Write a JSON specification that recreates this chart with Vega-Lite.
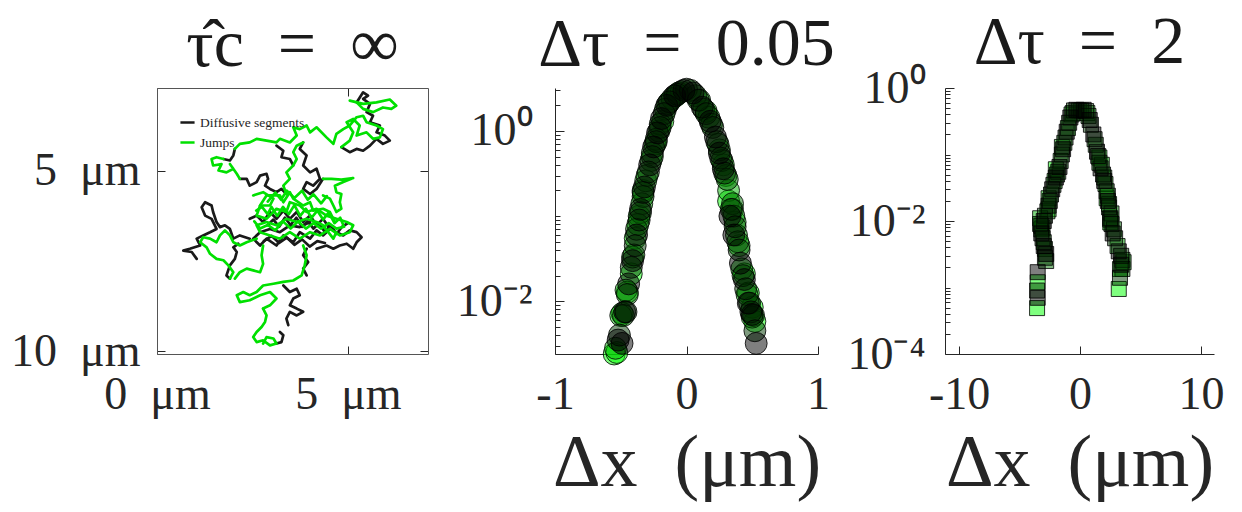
{
"$schema":"https://vega.github.io/schema/vega-lite/v6.json",
"background":"white",
"padding":{"left":10,"top":9,"right":5,"bottom":2},
"config":{"view":{"stroke":null},"font":"Liberation Serif",
 "axis":{"labelFont":"Liberation Serif","labelFontSize":46,"labelColor":"#262626","titleFont":"Liberation Serif","titleFontSize":74,"titleFontWeight":"normal","titleColor":"#262626","domainColor":"#262626","tickColor":"#262626","grid":false,"labelOverlap":false,"labelFlush":false,"labelBound":false},
 "title":{"font":"Liberation Serif","fontSize":68,"fontWeight":"normal","color":"#1a1a1a"}},
"spacing":127,
"bounds":"flush",
"resolve":{"scale":{"x":"independent","y":"independent","color":"independent","fill":"independent"}},
"datasets":{
"traj":[
{"k":"Diffusive segments","g":"K1","x":5.23,"y":3.10},{"k":"Diffusive segments","g":"K1","x":5.40,"y":2.82},{"k":"Diffusive segments","g":"K1","x":5.53,"y":2.91},{"k":"Diffusive segments","g":"K1","x":5.40,"y":3.00},{"k":"Diffusive segments","g":"K1","x":5.58,"y":3.14},{"k":"Diffusive segments","g":"K1","x":5.49,"y":3.37},{"k":"Diffusive segments","g":"K1","x":5.66,"y":3.47},{"k":"Diffusive segments","g":"K1","x":5.58,"y":3.65},{"k":"Diffusive segments","g":"K1","x":5.84,"y":3.74},{"k":"Diffusive segments","g":"K1","x":5.75,"y":3.93},{"k":"Diffusive segments","g":"K1","x":5.97,"y":4.02},{"k":"Diffusive segments","g":"K1","x":6.10,"y":4.16},{"k":"Diffusive segments","g":"K1","x":5.92,"y":4.25},{"k":"Diffusive segments","g":"K1","x":5.75,"y":4.11},{"k":"Diffusive segments","g":"K1","x":5.58,"y":4.30},{"k":"Diffusive segments","g":"K1","x":5.40,"y":4.44},{"k":"Diffusive segments","g":"K1","x":5.23,"y":4.39},{"k":"Diffusive segments","g":"K1","x":5.05,"y":4.48},{"k":"Diffusive segments","g":"K1","x":4.83,"y":4.34},
{"k":"Diffusive segments","g":"K2","x":2.04,"y":4.39},{"k":"Diffusive segments","g":"K2","x":2.00,"y":4.57},{"k":"Diffusive segments","g":"K2","x":1.91,"y":4.71},{"k":"Diffusive segments","g":"K2","x":1.74,"y":4.67},
{"k":"Diffusive segments","g":"K3","x":2.17,"y":5.22},{"k":"Diffusive segments","g":"K3","x":2.35,"y":5.22},{"k":"Diffusive segments","g":"K3","x":2.43,"y":5.41},{"k":"Diffusive segments","g":"K3","x":2.61,"y":5.31},{"k":"Diffusive segments","g":"K3","x":2.70,"y":5.13},{"k":"Diffusive segments","g":"K3","x":2.87,"y":5.08},{"k":"Diffusive segments","g":"K3","x":2.91,"y":5.22},{"k":"Diffusive segments","g":"K3","x":2.83,"y":5.41},{"k":"Diffusive segments","g":"K3","x":2.96,"y":5.50},{"k":"Diffusive segments","g":"K3","x":3.13,"y":5.59},{"k":"Diffusive segments","g":"K3","x":3.26,"y":5.50},{"k":"Diffusive segments","g":"K3","x":3.39,"y":5.64},
{"k":"Diffusive segments","g":"K4","x":3.83,"y":4.21},{"k":"Diffusive segments","g":"K4","x":3.74,"y":4.39},{"k":"Diffusive segments","g":"K4","x":3.92,"y":4.57},{"k":"Diffusive segments","g":"K4","x":3.83,"y":4.85},{"k":"Diffusive segments","g":"K4","x":4.01,"y":5.04},{"k":"Diffusive segments","g":"K4","x":4.18,"y":4.94},{"k":"Diffusive segments","g":"K4","x":4.27,"y":5.22},{"k":"Diffusive segments","g":"K4","x":4.09,"y":5.41},{"k":"Diffusive segments","g":"K4","x":3.92,"y":5.31},{"k":"Diffusive segments","g":"K4","x":3.83,"y":5.50},{"k":"Diffusive segments","g":"K4","x":4.01,"y":5.64},{"k":"Diffusive segments","g":"K4","x":4.18,"y":5.50},{"k":"Diffusive segments","g":"K4","x":4.35,"y":5.22},
{"k":"Diffusive segments","g":"K5","x":2.43,"y":6.33},{"k":"Diffusive segments","g":"K5","x":2.61,"y":6.24},{"k":"Diffusive segments","g":"K5","x":2.78,"y":6.42},{"k":"Diffusive segments","g":"K5","x":2.96,"y":6.14},{"k":"Diffusive segments","g":"K5","x":3.13,"y":6.33},{"k":"Diffusive segments","g":"K5","x":3.31,"y":6.10},{"k":"Diffusive segments","g":"K5","x":3.48,"y":6.33},{"k":"Diffusive segments","g":"K5","x":3.66,"y":6.14},{"k":"Diffusive segments","g":"K5","x":3.83,"y":6.42},{"k":"Diffusive segments","g":"K5","x":4.01,"y":6.24},{"k":"Diffusive segments","g":"K5","x":4.18,"y":6.51},{"k":"Diffusive segments","g":"K5","x":4.35,"y":6.33},{"k":"Diffusive segments","g":"K5","x":4.53,"y":6.61},{"k":"Diffusive segments","g":"K5","x":4.35,"y":6.79},{"k":"Diffusive segments","g":"K5","x":4.18,"y":6.65},{"k":"Diffusive segments","g":"K5","x":4.01,"y":6.88},{"k":"Diffusive segments","g":"K5","x":3.74,"y":6.70},{"k":"Diffusive segments","g":"K5","x":3.57,"y":6.98},{"k":"Diffusive segments","g":"K5","x":3.31,"y":6.79},{"k":"Diffusive segments","g":"K5","x":3.13,"y":7.07},{"k":"Diffusive segments","g":"K5","x":2.87,"y":6.88},{"k":"Diffusive segments","g":"K5","x":2.70,"y":7.07},{"k":"Diffusive segments","g":"K5","x":2.52,"y":6.88},{"k":"Diffusive segments","g":"K5","x":2.70,"y":6.70},{"k":"Diffusive segments","g":"K5","x":2.96,"y":6.61},{"k":"Diffusive segments","g":"K5","x":3.22,"y":6.70},{"k":"Diffusive segments","g":"K5","x":3.48,"y":6.51},{"k":"Diffusive segments","g":"K5","x":3.74,"y":6.56},{"k":"Diffusive segments","g":"K5","x":4.01,"y":6.42},
{"k":"Diffusive segments","g":"K6","x":4.70,"y":6.70},{"k":"Diffusive segments","g":"K6","x":4.88,"y":6.79},{"k":"Diffusive segments","g":"K6","x":5.05,"y":6.65},{"k":"Diffusive segments","g":"K6","x":5.23,"y":6.70},{"k":"Diffusive segments","g":"K6","x":5.36,"y":6.84},{"k":"Diffusive segments","g":"K6","x":5.23,"y":6.98},{"k":"Diffusive segments","g":"K6","x":5.14,"y":7.16},{"k":"Diffusive segments","g":"K6","x":4.97,"y":7.02},{"k":"Diffusive segments","g":"K6","x":4.79,"y":7.07},{"k":"Diffusive segments","g":"K6","x":4.62,"y":7.16},{"k":"Diffusive segments","g":"K6","x":4.44,"y":7.07},{"k":"Diffusive segments","g":"K6","x":4.18,"y":7.16},
{"k":"Diffusive segments","g":"K7","x":2.43,"y":6.88},{"k":"Diffusive segments","g":"K7","x":2.17,"y":6.79},{"k":"Diffusive segments","g":"K7","x":2.00,"y":6.88},{"k":"Diffusive segments","g":"K7","x":1.91,"y":6.61},{"k":"Diffusive segments","g":"K7","x":1.78,"y":6.51},{"k":"Diffusive segments","g":"K7","x":1.65,"y":6.56},{"k":"Diffusive segments","g":"K7","x":1.56,"y":6.42},{"k":"Diffusive segments","g":"K7","x":1.47,"y":6.14},{"k":"Diffusive segments","g":"K7","x":1.43,"y":5.96},{"k":"Diffusive segments","g":"K7","x":1.26,"y":5.87},{"k":"Diffusive segments","g":"K7","x":1.17,"y":6.01},{"k":"Diffusive segments","g":"K7","x":1.26,"y":6.24},{"k":"Diffusive segments","g":"K7","x":1.43,"y":6.33},{"k":"Diffusive segments","g":"K7","x":1.56,"y":6.61},{"k":"Diffusive segments","g":"K7","x":1.39,"y":6.70},{"k":"Diffusive segments","g":"K7","x":1.21,"y":6.79},{"k":"Diffusive segments","g":"K7","x":1.04,"y":6.88},{"k":"Diffusive segments","g":"K7","x":1.13,"y":7.07},{"k":"Diffusive segments","g":"K7","x":0.86,"y":7.16},{"k":"Diffusive segments","g":"K7","x":0.69,"y":7.21},{"k":"Diffusive segments","g":"K7","x":0.91,"y":7.25},{"k":"Diffusive segments","g":"K7","x":1.04,"y":7.44},
{"k":"Diffusive segments","g":"K8","x":1.91,"y":7.99},{"k":"Diffusive segments","g":"K8","x":1.82,"y":7.90},{"k":"Diffusive segments","g":"K8","x":1.91,"y":7.62},{"k":"Diffusive segments","g":"K8","x":2.04,"y":7.44},{"k":"Diffusive segments","g":"K8","x":2.09,"y":7.25},{"k":"Diffusive segments","g":"K8","x":2.00,"y":7.12},{"k":"Diffusive segments","g":"K8","x":2.13,"y":7.02},
{"k":"Diffusive segments","g":"K9","x":3.31,"y":8.18},{"k":"Diffusive segments","g":"K9","x":3.48,"y":8.36},{"k":"Diffusive segments","g":"K9","x":3.66,"y":8.27},{"k":"Diffusive segments","g":"K9","x":3.74,"y":8.45},{"k":"Diffusive segments","g":"K9","x":3.57,"y":8.54},{"k":"Diffusive segments","g":"K9","x":3.48,"y":8.73},{"k":"Diffusive segments","g":"K9","x":3.66,"y":8.82},{"k":"Diffusive segments","g":"K9","x":3.83,"y":8.91},{"k":"Diffusive segments","g":"K9","x":3.66,"y":9.01},{"k":"Diffusive segments","g":"K9","x":3.48,"y":8.91},{"k":"Diffusive segments","g":"K9","x":3.39,"y":9.10},{"k":"Diffusive segments","g":"K9","x":3.44,"y":9.28},
{"k":"Diffusive segments","g":"K10","x":3.13,"y":9.79},{"k":"Diffusive segments","g":"K10","x":3.26,"y":9.75},{"k":"Diffusive segments","g":"K10","x":3.31,"y":9.56},{"k":"Diffusive segments","g":"K10","x":3.22,"y":9.47},
{"k":"Diffusive segments","g":"K11","x":3.13,"y":4.30},{"k":"Diffusive segments","g":"K11","x":3.31,"y":4.44},{"k":"Diffusive segments","g":"K11","x":3.26,"y":4.62},{"k":"Diffusive segments","g":"K11","x":3.48,"y":4.67},{"k":"Diffusive segments","g":"K11","x":3.57,"y":4.85},
{"k":"Diffusive segments","g":"K12","x":3.92,"y":7.16},{"k":"Diffusive segments","g":"K12","x":3.83,"y":7.34},{"k":"Diffusive segments","g":"K12","x":3.96,"y":7.53},{"k":"Diffusive segments","g":"K12","x":3.83,"y":7.71},{"k":"Diffusive segments","g":"K12","x":3.92,"y":7.90},
{"k":"Diffusive segments","g":"K13","x":2.9,"y":6.5},{"k":"Diffusive segments","g":"K13","x":3.05,"y":6.35},{"k":"Diffusive segments","g":"K13","x":3.2,"y":6.55},{"k":"Diffusive segments","g":"K13","x":3.35,"y":6.3},{"k":"Diffusive segments","g":"K13","x":3.5,"y":6.5},{"k":"Diffusive segments","g":"K13","x":3.65,"y":6.3},{"k":"Diffusive segments","g":"K13","x":3.8,"y":6.55},{"k":"Diffusive segments","g":"K13","x":3.95,"y":6.4},{"k":"Diffusive segments","g":"K13","x":4.1,"y":6.6},{"k":"Diffusive segments","g":"K13","x":4.25,"y":6.45},{"k":"Diffusive segments","g":"K13","x":4.4,"y":6.7},{"k":"Diffusive segments","g":"K13","x":4.55,"y":6.5},{"k":"Diffusive segments","g":"K13","x":4.7,"y":6.75},{"k":"Diffusive segments","g":"K13","x":4.85,"y":6.55},{"k":"Diffusive segments","g":"K13","x":5.0,"y":6.45},
{"k":"Diffusive segments","g":"K14","x":2.8,"y":6.95},{"k":"Diffusive segments","g":"K14","x":3.0,"y":6.8},{"k":"Diffusive segments","g":"K14","x":3.2,"y":7.0},{"k":"Diffusive segments","g":"K14","x":3.4,"y":6.85},{"k":"Diffusive segments","g":"K14","x":3.6,"y":7.05},{"k":"Diffusive segments","g":"K14","x":3.8,"y":6.9},{"k":"Diffusive segments","g":"K14","x":4.0,"y":7.1},{"k":"Diffusive segments","g":"K14","x":4.2,"y":6.95},{"k":"Diffusive segments","g":"K14","x":4.4,"y":7.0},
{"k":"Jumps","g":"G1","x":5.05,"y":3.05},{"k":"Jumps","g":"G1","x":5.40,"y":3.14},{"k":"Jumps","g":"G1","x":5.75,"y":3.10},{"k":"Jumps","g":"G1","x":6.10,"y":3.02},{"k":"Jumps","g":"G1","x":6.27,"y":3.19},{"k":"Jumps","g":"G1","x":6.14,"y":3.28},{"k":"Jumps","g":"G1","x":5.92,"y":3.24},{"k":"Jumps","g":"G1","x":5.66,"y":3.37},{"k":"Jumps","g":"G1","x":5.40,"y":3.28},{"k":"Jumps","g":"G1","x":5.23,"y":3.10},
{"k":"Jumps","g":"G2","x":4.83,"y":4.34},{"k":"Jumps","g":"G2","x":5.05,"y":4.16},{"k":"Jumps","g":"G2","x":5.14,"y":3.93},{"k":"Jumps","g":"G2","x":4.97,"y":3.65},{"k":"Jumps","g":"G2","x":5.14,"y":3.56},{"k":"Jumps","g":"G2","x":5.31,"y":3.74},{"k":"Jumps","g":"G2","x":5.23,"y":4.02},{"k":"Jumps","g":"G2","x":5.49,"y":3.93},{"k":"Jumps","g":"G2","x":5.66,"y":4.11},{"k":"Jumps","g":"G2","x":5.84,"y":4.07},{"k":"Jumps","g":"G2","x":5.92,"y":3.84},{"k":"Jumps","g":"G2","x":5.75,"y":3.74},{"k":"Jumps","g":"G2","x":5.49,"y":3.65},{"k":"Jumps","g":"G2","x":5.40,"y":3.47},{"k":"Jumps","g":"G2","x":5.23,"y":3.51},{"k":"Jumps","g":"G2","x":5.05,"y":3.74},{"k":"Jumps","g":"G2","x":4.88,"y":3.84},{"k":"Jumps","g":"G2","x":4.70,"y":3.97},{"k":"Jumps","g":"G2","x":4.62,"y":4.25},{"k":"Jumps","g":"G2","x":4.44,"y":4.07},{"k":"Jumps","g":"G2","x":4.18,"y":3.79},{"k":"Jumps","g":"G2","x":4.01,"y":3.93},{"k":"Jumps","g":"G2","x":3.92,"y":3.74},{"k":"Jumps","g":"G2","x":3.74,"y":3.84},{"k":"Jumps","g":"G2","x":3.57,"y":3.79},{"k":"Jumps","g":"G2","x":3.66,"y":4.02},{"k":"Jumps","g":"G2","x":3.48,"y":4.21},{"k":"Jumps","g":"G2","x":3.22,"y":4.11},{"k":"Jumps","g":"G2","x":3.13,"y":4.21},{"k":"Jumps","g":"G2","x":2.87,"y":4.16},{"k":"Jumps","g":"G2","x":2.61,"y":4.11},{"k":"Jumps","g":"G2","x":2.43,"y":4.21},{"k":"Jumps","g":"G2","x":2.17,"y":4.25},{"k":"Jumps","g":"G2","x":2.04,"y":4.39},
{"k":"Jumps","g":"G4","x":1.74,"y":4.67},{"k":"Jumps","g":"G4","x":1.56,"y":4.62},{"k":"Jumps","g":"G4","x":1.43,"y":4.67},{"k":"Jumps","g":"G4","x":1.47,"y":4.85},{"k":"Jumps","g":"G4","x":1.69,"y":4.81},{"k":"Jumps","g":"G4","x":1.61,"y":4.99},{"k":"Jumps","g":"G4","x":1.82,"y":5.04},{"k":"Jumps","g":"G4","x":2.00,"y":4.94},{"k":"Jumps","g":"G4","x":1.91,"y":4.81},{"k":"Jumps","g":"G4","x":2.09,"y":5.08},{"k":"Jumps","g":"G4","x":2.17,"y":5.22},
{"k":"Jumps","g":"G5","x":3.39,"y":5.64},{"k":"Jumps","g":"G5","x":3.31,"y":5.41},{"k":"Jumps","g":"G5","x":3.48,"y":5.22},{"k":"Jumps","g":"G5","x":3.39,"y":5.04},{"k":"Jumps","g":"G5","x":3.57,"y":4.85},{"k":"Jumps","g":"G5","x":3.66,"y":4.67},{"k":"Jumps","g":"G5","x":3.57,"y":4.48},{"k":"Jumps","g":"G5","x":3.66,"y":4.30},{"k":"Jumps","g":"G5","x":3.83,"y":4.21},
{"k":"Jumps","g":"G6","x":4.35,"y":5.22},{"k":"Jumps","g":"G6","x":4.57,"y":5.22},{"k":"Jumps","g":"G6","x":4.83,"y":5.24},{"k":"Jumps","g":"G6","x":5.14,"y":5.20},{"k":"Jumps","g":"G6","x":4.88,"y":5.31},{"k":"Jumps","g":"G6","x":4.66,"y":5.41},{"k":"Jumps","g":"G6","x":4.70,"y":5.59},{"k":"Jumps","g":"G6","x":4.83,"y":5.64},{"k":"Jumps","g":"G6","x":4.79,"y":5.87},{"k":"Jumps","g":"G6","x":4.83,"y":6.05},{"k":"Jumps","g":"G6","x":4.70,"y":6.14},{"k":"Jumps","g":"G6","x":4.62,"y":5.96},{"k":"Jumps","g":"G6","x":4.53,"y":5.77},{"k":"Jumps","g":"G6","x":4.35,"y":5.68},
{"k":"Jumps","g":"G7","x":2.52,"y":5.68},{"k":"Jumps","g":"G7","x":2.78,"y":5.59},{"k":"Jumps","g":"G7","x":3.05,"y":5.77},{"k":"Jumps","g":"G7","x":2.96,"y":5.96},{"k":"Jumps","g":"G7","x":2.70,"y":5.96},{"k":"Jumps","g":"G7","x":2.61,"y":6.24},{"k":"Jumps","g":"G7","x":2.87,"y":6.33},{"k":"Jumps","g":"G7","x":3.13,"y":6.05},{"k":"Jumps","g":"G7","x":3.39,"y":6.14},{"k":"Jumps","g":"G7","x":3.48,"y":5.87},{"k":"Jumps","g":"G7","x":3.74,"y":5.96},{"k":"Jumps","g":"G7","x":3.92,"y":6.14},{"k":"Jumps","g":"G7","x":4.18,"y":6.05},{"k":"Jumps","g":"G7","x":4.44,"y":6.24},{"k":"Jumps","g":"G7","x":4.70,"y":6.33},{"k":"Jumps","g":"G7","x":4.97,"y":6.42},{"k":"Jumps","g":"G7","x":5.14,"y":6.51},{"k":"Jumps","g":"G7","x":5.05,"y":6.70},{"k":"Jumps","g":"G7","x":4.79,"y":6.79},{"k":"Jumps","g":"G7","x":4.53,"y":6.61},{"k":"Jumps","g":"G7","x":4.27,"y":6.79},{"k":"Jumps","g":"G7","x":4.01,"y":6.70},{"k":"Jumps","g":"G7","x":3.74,"y":6.88},{"k":"Jumps","g":"G7","x":3.48,"y":6.70},{"k":"Jumps","g":"G7","x":3.22,"y":6.88},{"k":"Jumps","g":"G7","x":2.96,"y":6.79},{"k":"Jumps","g":"G7","x":2.70,"y":6.70},{"k":"Jumps","g":"G7","x":2.61,"y":6.51},{"k":"Jumps","g":"G7","x":2.87,"y":6.42},{"k":"Jumps","g":"G7","x":3.13,"y":6.51},{"k":"Jumps","g":"G7","x":3.39,"y":6.33},{"k":"Jumps","g":"G7","x":3.66,"y":6.42},{"k":"Jumps","g":"G7","x":3.92,"y":6.33},{"k":"Jumps","g":"G7","x":4.18,"y":6.42},{"k":"Jumps","g":"G7","x":4.35,"y":6.51},{"k":"Jumps","g":"G7","x":4.62,"y":6.88},{"k":"Jumps","g":"G7","x":4.70,"y":6.70},
{"k":"Jumps","g":"G7b","x":2.70,"y":5.96},{"k":"Jumps","g":"G7b","x":2.87,"y":5.68},{"k":"Jumps","g":"G7b","x":3.22,"y":5.68},{"k":"Jumps","g":"G7b","x":3.31,"y":5.87},{"k":"Jumps","g":"G7b","x":3.48,"y":5.59},{"k":"Jumps","g":"G7b","x":3.57,"y":5.77},{"k":"Jumps","g":"G7b","x":3.83,"y":5.96},{"k":"Jumps","g":"G7b","x":4.01,"y":5.87},{"k":"Jumps","g":"G7b","x":4.09,"y":6.10},{"k":"Jumps","g":"G7b","x":4.35,"y":6.05},{"k":"Jumps","g":"G7b","x":4.53,"y":6.14},{"k":"Jumps","g":"G7b","x":4.66,"y":6.42},
{"k":"Jumps","g":"G8","x":2.61,"y":6.88},{"k":"Jumps","g":"G8","x":2.35,"y":6.98},{"k":"Jumps","g":"G8","x":2.17,"y":7.07},{"k":"Jumps","g":"G8","x":2.00,"y":6.98},{"k":"Jumps","g":"G8","x":1.91,"y":6.79},{"k":"Jumps","g":"G8","x":1.78,"y":6.65},{"k":"Jumps","g":"G8","x":1.65,"y":6.79},{"k":"Jumps","g":"G8","x":1.56,"y":6.98},{"k":"Jumps","g":"G8","x":1.39,"y":6.88},{"k":"Jumps","g":"G8","x":1.21,"y":6.84},{"k":"Jumps","g":"G8","x":1.13,"y":6.98},{"k":"Jumps","g":"G8","x":1.30,"y":7.12},{"k":"Jumps","g":"G8","x":1.39,"y":7.30},{"k":"Jumps","g":"G8","x":1.56,"y":7.44},{"k":"Jumps","g":"G8","x":1.74,"y":7.48},{"k":"Jumps","g":"G8","x":1.87,"y":7.62},{"k":"Jumps","g":"G8","x":2.00,"y":7.81},{"k":"Jumps","g":"G8","x":1.91,"y":7.99},
{"k":"Jumps","g":"G9","x":3.83,"y":7.07},{"k":"Jumps","g":"G9","x":3.92,"y":7.34},{"k":"Jumps","g":"G9","x":3.87,"y":7.62},{"k":"Jumps","g":"G9","x":3.79,"y":7.90},{"k":"Jumps","g":"G9","x":3.57,"y":8.04},{"k":"Jumps","g":"G9","x":3.31,"y":8.08},{"k":"Jumps","g":"G9","x":3.05,"y":8.13},{"k":"Jumps","g":"G9","x":2.78,"y":8.18},{"k":"Jumps","g":"G9","x":2.61,"y":8.36},{"k":"Jumps","g":"G9","x":2.43,"y":8.45},{"k":"Jumps","g":"G9","x":2.26,"y":8.36},{"k":"Jumps","g":"G9","x":2.09,"y":8.45},{"k":"Jumps","g":"G9","x":2.17,"y":8.64},{"k":"Jumps","g":"G9","x":2.43,"y":8.59},{"k":"Jumps","g":"G9","x":2.70,"y":8.45},{"k":"Jumps","g":"G9","x":2.96,"y":8.36},{"k":"Jumps","g":"G9","x":3.13,"y":8.54},{"k":"Jumps","g":"G9","x":2.96,"y":8.73},{"k":"Jumps","g":"G9","x":2.78,"y":8.82},
{"k":"Jumps","g":"G9b","x":2.78,"y":7.07},{"k":"Jumps","g":"G9b","x":2.74,"y":7.34},{"k":"Jumps","g":"G9b","x":2.78,"y":7.58},{"k":"Jumps","g":"G9b","x":2.70,"y":7.81},{"k":"Jumps","g":"G9b","x":2.52,"y":7.76},{"k":"Jumps","g":"G9b","x":2.35,"y":7.71},{"k":"Jumps","g":"G9b","x":2.17,"y":7.81},{"k":"Jumps","g":"G9b","x":2.04,"y":7.99},
{"k":"Jumps","g":"G10","x":2.78,"y":8.82},{"k":"Jumps","g":"G10","x":2.87,"y":9.01},{"k":"Jumps","g":"G10","x":2.83,"y":9.19},{"k":"Jumps","g":"G10","x":2.74,"y":9.33},{"k":"Jumps","g":"G10","x":2.61,"y":9.47},{"k":"Jumps","g":"G10","x":2.52,"y":9.61},{"k":"Jumps","g":"G10","x":2.61,"y":9.75},{"k":"Jumps","g":"G10","x":2.78,"y":9.70},{"k":"Jumps","g":"G10","x":2.96,"y":9.84},{"k":"Jumps","g":"G10","x":3.13,"y":9.79},{"k":"Jumps","g":"G10","x":3.05,"y":9.65},{"k":"Jumps","g":"G10","x":2.87,"y":9.61},{"k":"Jumps","g":"G10","x":2.78,"y":9.79},
{"k":"Jumps","g":"G11","x":2.6,"y":6.1},{"k":"Jumps","g":"G11","x":2.75,"y":6.0},{"k":"Jumps","g":"G11","x":2.9,"y":6.2},{"k":"Jumps","g":"G11","x":3.0,"y":6.0},{"k":"Jumps","g":"G11","x":3.15,"y":6.25},{"k":"Jumps","g":"G11","x":3.3,"y":6.0},{"k":"Jumps","g":"G11","x":3.45,"y":6.2},{"k":"Jumps","g":"G11","x":3.6,"y":5.95},{"k":"Jumps","g":"G11","x":3.75,"y":6.25},{"k":"Jumps","g":"G11","x":3.9,"y":6.05},{"k":"Jumps","g":"G11","x":4.05,"y":6.3},{"k":"Jumps","g":"G11","x":4.2,"y":6.1},{"k":"Jumps","g":"G11","x":4.35,"y":6.35},{"k":"Jumps","g":"G11","x":4.5,"y":6.15},{"k":"Jumps","g":"G11","x":4.65,"y":6.45},{"k":"Jumps","g":"G11","x":4.8,"y":6.3},{"k":"Jumps","g":"G11","x":4.9,"y":6.55},{"k":"Jumps","g":"G11","x":4.7,"y":6.6},{"k":"Jumps","g":"G11","x":4.5,"y":6.45},{"k":"Jumps","g":"G11","x":4.3,"y":6.6},{"k":"Jumps","g":"G11","x":4.1,"y":6.45},{"k":"Jumps","g":"G11","x":3.9,"y":6.6},{"k":"Jumps","g":"G11","x":3.7,"y":6.4},{"k":"Jumps","g":"G11","x":3.5,"y":6.6},{"k":"Jumps","g":"G11","x":3.3,"y":6.4},{"k":"Jumps","g":"G11","x":3.1,"y":6.65},{"k":"Jumps","g":"G11","x":2.9,"y":6.5},{"k":"Jumps","g":"G11","x":2.7,"y":6.6},{"k":"Jumps","g":"G11","x":2.55,"y":6.4},
{"k":"Jumps","g":"G12","x":2.9,"y":5.85},{"k":"Jumps","g":"G12","x":3.1,"y":5.6},{"k":"Jumps","g":"G12","x":3.25,"y":5.8},{"k":"Jumps","g":"G12","x":3.4,"y":5.55},{"k":"Jumps","g":"G12","x":3.6,"y":5.75},{"k":"Jumps","g":"G12","x":3.8,"y":5.55},{"k":"Jumps","g":"G12","x":3.95,"y":5.8},{"k":"Jumps","g":"G12","x":4.1,"y":5.65},{"k":"Jumps","g":"G12","x":4.3,"y":5.9},{"k":"Jumps","g":"G12","x":4.45,"y":5.7}
],
"mid":[
{"s":4,"x":-0.08,"y":2.6},{"s":4,"x":-0.18,"y":1.3},{"s":4,"x":-0.24,"y":0.7},{"s":4,"x":-0.33,"y":0.2},{"s":4,"x":-0.36,"y":0.1},{"s":4,"x":-0.39,"y":0.055},{"s":4,"x":-0.42,"y":0.021},{"s":4,"x":-0.45,"y":0.0128},{"s":4,"x":-0.49,"y":0.0072},{"s":4,"x":-0.55,"y":0.0024},{"s":4,"x":-0.53,"y":0.0025},
{"s":4,"x":0.15,"y":1.7},{"s":4,"x":0.28,"y":0.4},{"s":4,"x":0.32,"y":0.15},{"s":4,"x":0.37,"y":0.085},{"s":4,"x":0.40,"y":0.045},{"s":4,"x":0.44,"y":0.021},{"s":4,"x":0.47,"y":0.0125},{"s":4,"x":0.5,"y":0.0085},{"s":4,"x":0.52,"y":0.0058},
{"s":3,"x":-0.06,"y":2.8},{"s":3,"x":-0.14,"y":2.1},{"s":3,"x":-0.21,"y":1.0},{"s":3,"x":-0.27,"y":0.45},{"s":3,"x":-0.31,"y":0.26},{"s":3,"x":-0.34,"y":0.14},{"s":3,"x":-0.37,"y":0.08},{"s":3,"x":-0.41,"y":0.033},{"s":3,"x":-0.46,"y":0.0135},{"s":3,"x":-0.5,"y":0.0068},{"s":3,"x":-0.54,"y":0.0028},
{"s":3,"x":0.1,"y":2.3},{"s":3,"x":0.17,"y":1.45},{"s":3,"x":0.25,"y":0.6},{"s":3,"x":0.3,"y":0.3},{"s":3,"x":0.32,"y":0.2},{"s":3,"x":0.35,"y":0.12},{"s":3,"x":0.38,"y":0.06},{"s":3,"x":0.42,"y":0.024},{"s":3,"x":0.46,"y":0.012},{"s":3,"x":0.5,"y":0.0065},
{"s":2,"x":-0.04,"y":2.9},{"s":2,"x":-0.11,"y":2.4},{"s":2,"x":-0.16,"y":1.8},{"s":2,"x":-0.2,"y":1.2},{"s":2,"x":-0.23,"y":0.8},{"s":2,"x":-0.26,"y":0.55},{"s":2,"x":-0.3,"y":0.3},{"s":2,"x":-0.33,"y":0.17},{"s":2,"x":-0.35,"y":0.11},{"s":2,"x":-0.38,"y":0.07},{"s":2,"x":-0.4,"y":0.035},{"s":2,"x":-0.45,"y":0.012},{"s":2,"x":-0.48,"y":0.0068},
{"s":2,"x":0.07,"y":2.6},{"s":2,"x":0.13,"y":1.8},{"s":2,"x":0.19,"y":1.2},{"s":2,"x":0.24,"y":0.7},{"s":2,"x":0.27,"y":0.45},{"s":2,"x":0.31,"y":0.27},{"s":2,"x":0.35,"y":0.14},{"s":2,"x":0.36,"y":0.1},{"s":2,"x":0.39,"y":0.05},{"s":2,"x":0.43,"y":0.02},{"s":2,"x":0.48,"y":0.0095},{"s":2,"x":0.51,"y":0.0068},
{"s":1,"x":0.0,"y":3.1},{"s":1,"x":-0.07,"y":2.7},{"s":1,"x":-0.13,"y":2.2},{"s":1,"x":-0.17,"y":1.6},{"s":1,"x":-0.20,"y":1.1},{"s":1,"x":-0.23,"y":0.75},{"s":1,"x":-0.26,"y":0.5},{"s":1,"x":-0.29,"y":0.33},{"s":1,"x":-0.33,"y":0.19},{"s":1,"x":-0.36,"y":0.09},{"s":1,"x":-0.39,"y":0.045},{"s":1,"x":-0.42,"y":0.025},{"s":1,"x":-0.46,"y":0.0075},{"s":1,"x":-0.51,"y":0.004},
{"s":1,"x":0.03,"y":3.0},{"s":1,"x":0.09,"y":2.3},{"s":1,"x":0.15,"y":1.6},{"s":1,"x":0.2,"y":1.1},{"s":1,"x":0.23,"y":0.75},{"s":1,"x":0.26,"y":0.48},{"s":1,"x":0.29,"y":0.32},{"s":1,"x":0.34,"y":0.12},{"s":1,"x":0.37,"y":0.075},{"s":1,"x":0.40,"y":0.04},{"s":1,"x":0.45,"y":0.014},{"s":1,"x":0.49,"y":0.0075},{"s":1,"x":0.52,"y":0.0045},
{"s":0,"x":-0.02,"y":3.0},{"s":0,"x":-0.09,"y":2.6},{"s":0,"x":-0.15,"y":2.0},{"s":0,"x":-0.19,"y":1.4},{"s":0,"x":-0.22,"y":0.95},{"s":0,"x":-0.25,"y":0.65},{"s":0,"x":-0.28,"y":0.4},{"s":0,"x":-0.32,"y":0.22},{"s":0,"x":-0.35,"y":0.12},{"s":0,"x":-0.38,"y":0.06},{"s":0,"x":-0.41,"y":0.03},{"s":0,"x":-0.44,"y":0.016},{"s":0,"x":-0.47,"y":0.0075},{"s":0,"x":-0.52,"y":0.0035},{"s":0,"x":-0.49,"y":0.0032},
{"s":0,"x":0.05,"y":2.8},{"s":0,"x":0.12,"y":1.9},{"s":0,"x":0.18,"y":1.3},{"s":0,"x":0.22,"y":0.85},{"s":0,"x":0.25,"y":0.55},{"s":0,"x":0.28,"y":0.36},{"s":0,"x":0.33,"y":0.1},{"s":0,"x":0.36,"y":0.06},{"s":0,"x":0.41,"y":0.028},{"s":0,"x":0.44,"y":0.018},{"s":0,"x":0.47,"y":0.0095},{"s":0,"x":0.50,"y":0.007},{"s":0,"x":0.53,"y":0.0032}
],
"right":[
{"s":4,"x":-1.0,"y":0.25},{"s":4,"x":-2.0,"y":0.06},{"s":4,"x":-2.6,"y":0.015},{"s":4,"x":-3.1,"y":0.0078},{"s":4,"x":-3.55,"y":0.00049},{"s":4,"x":-3.5,"y":0.0012},
{"s":4,"x":1.6,"y":0.09},{"s":4,"x":2.2,"y":0.022},{"s":4,"x":2.5,"y":0.0095},{"s":4,"x":3.3,"y":0.0019},{"s":4,"x":3.2,"y":0.00095},
{"s":3,"x":-0.6,"y":0.42},{"s":3,"x":-1.5,"y":0.13},{"s":3,"x":-2.1,"y":0.04},{"s":3,"x":-2.6,"y":0.022},{"s":3,"x":-3.3,"y":0.011},{"s":3,"x":-3.2,"y":0.0075},{"s":3,"x":-2.9,"y":0.0038},
{"s":3,"x":0.6,"y":0.42},{"s":3,"x":1.8,"y":0.07},{"s":3,"x":2.1,"y":0.036},{"s":3,"x":2.4,"y":0.018},{"s":3,"x":2.5,"y":0.0105},{"s":3,"x":3.1,"y":0.0042},{"s":3,"x":3.6,"y":0.0024},
{"s":2,"x":-0.1,"y":0.46},{"s":2,"x":-0.7,"y":0.4},{"s":2,"x":-1.3,"y":0.15},{"s":2,"x":-1.6,"y":0.08},{"s":2,"x":-1.9,"y":0.05},{"s":2,"x":-2.4,"y":0.025},{"s":2,"x":-2.7,"y":0.014},{"s":2,"x":-3.3,"y":0.009},{"s":2,"x":-3.0,"y":0.0048},{"s":2,"x":-2.8,"y":0.0025},
{"s":2,"x":0.1,"y":0.46},{"s":2,"x":0.7,"y":0.38},{"s":2,"x":1.3,"y":0.14},{"s":2,"x":1.6,"y":0.075},{"s":2,"x":2.0,"y":0.045},{"s":2,"x":2.3,"y":0.024},{"s":2,"x":2.6,"y":0.013},{"s":2,"x":2.8,"y":0.0075},{"s":2,"x":3.5,"y":0.0026},{"s":2,"x":3.5,"y":0.0019},
{"s":1,"x":-0.5,"y":0.46},{"s":1,"x":-0.9,"y":0.3},{"s":1,"x":-1.2,"y":0.18},{"s":1,"x":-1.5,"y":0.1},{"s":1,"x":-1.8,"y":0.055},{"s":1,"x":-2.2,"y":0.035},{"s":1,"x":-2.5,"y":0.02},{"s":1,"x":-2.9,"y":0.012},{"s":1,"x":-3.2,"y":0.0085},{"s":1,"x":-3.1,"y":0.0055},{"s":1,"x":-2.9,"y":0.0028},{"s":1,"x":-3.55,"y":0.0009},
{"s":1,"x":0.5,"y":0.45},{"s":1,"x":0.9,"y":0.28},{"s":1,"x":1.2,"y":0.17},{"s":1,"x":1.5,"y":0.095},{"s":1,"x":1.9,"y":0.05},{"s":1,"x":2.2,"y":0.028},{"s":1,"x":2.4,"y":0.016},{"s":1,"x":2.6,"y":0.009},{"s":1,"x":2.9,"y":0.0055},{"s":1,"x":3.4,"y":0.003},{"s":1,"x":3.3,"y":0.0014},
{"s":0,"x":-0.3,"y":0.47},{"s":0,"x":-0.8,"y":0.36},{"s":0,"x":-1.1,"y":0.22},{"s":0,"x":-1.4,"y":0.12},{"s":0,"x":-1.7,"y":0.065},{"s":0,"x":-2.0,"y":0.045},{"s":0,"x":-2.3,"y":0.03},{"s":0,"x":-2.6,"y":0.017},{"s":0,"x":-3.0,"y":0.01},{"s":0,"x":-3.2,"y":0.0065},{"s":0,"x":-3.0,"y":0.0042},{"s":0,"x":-2.8,"y":0.0032},{"s":0,"x":-3.5,"y":0.0017},{"s":0,"x":-3.5,"y":0.0007},
{"s":0,"x":0.3,"y":0.47},{"s":0,"x":0.8,"y":0.33},{"s":0,"x":1.1,"y":0.2},{"s":0,"x":1.4,"y":0.11},{"s":0,"x":1.7,"y":0.062},{"s":0,"x":2.0,"y":0.04},{"s":0,"x":2.3,"y":0.02},{"s":0,"x":2.5,"y":0.011},{"s":0,"x":2.7,"y":0.0065},{"s":0,"x":3.2,"y":0.0035},{"s":0,"x":3.4,"y":0.0022}
]
},
"hconcat":[
{
 "width":271,"height":266,
 "title":{"text":"τ̂c\u2002=\u2002∞","offset":8},
 "data":{"name":"traj"},
 "layer":[
  {"mark":{"type":"line","strokeWidth":2.7,"strokeJoin":"round","strokeCap":"round"},
   "encoding":{
    "x":{"field":"x","type":"quantitative","scale":{"domain":[0,7.1],"nice":false,"zero":false},"axis":{"orient":"bottom","values":[0,5],"labelExpr":"datum.value + '\u2002μm'","title":null,"tickSize":-8,"labelPadding":26,"domainColor":"#555555"}},
    "y":{"field":"y","type":"quantitative","scale":{"domain":[2.7,10.08],"nice":false,"zero":false,"reverse":true},"axis":{"orient":"left","values":[5,10],"labelExpr":"datum.value + '\u2002μm'","title":null,"tickSize":-8,"labelPadding":25,"domainColor":"#555555"}},
    "color":{"field":"k","type":"nominal","scale":{"domain":["Diffusive segments","Jumps"],"range":["#1a1a1a","#00e000"]},"legend":{"title":null,"orient":"none","legendX":22,"legendY":26,"symbolType":"stroke","symbolStrokeWidth":2.5,"symbolSize":200,"labelFont":"Liberation Serif","labelFontSize":13.5,"labelColor":"#262626","rowPadding":5}},
    "detail":{"field":"g"},
    "order":{"value":null}
   }},
  {"mark":{"type":"line","opacity":0},
   "encoding":{
    "x":{"field":"x","type":"quantitative","axis":{"orient":"top","values":[0,5],"labels":false,"title":null,"tickSize":-8,"domainColor":"#555555"}},
    "y":{"field":"y","type":"quantitative","axis":{"orient":"right","values":[5,10],"labels":false,"title":null,"tickSize":-8,"domainColor":"#555555"}},
    "detail":{"field":"g"},
    "order":{"value":null}
   }}
 ],
 "resolve":{"axis":{"x":"independent","y":"independent"}}
},
{
 "width":263,"height":266,
 "title":{"text":"Δτ\u2002=\u20020.05","offset":-12},
 "data":{"name":"mid"},
 "mark":{"type":"point","shape":"circle","filled":true,"size":480,"stroke":"#000000","strokeWidth":1,"fillOpacity":0.5,"strokeOpacity":0.8,"opacity":1},
 "encoding":{
  "x":{"field":"x","type":"quantitative","scale":{"domain":[-1,1],"nice":false,"zero":false},"axis":{"values":[-1,0,1],"labelExpr":"datum.value < 0 ? '-' + abs(datum.value) : '' + datum.value","title":"Δx\u2002(μm)","titlePadding":10,"tickSize":-8,"labelPadding":26}},
  "y":{"field":"y","type":"quantitative","scale":{"type":"log","domain":[0.0024,3.2],"nice":false},"axis":{"values":[0.003,0.004,0.005,0.006,0.007,0.008,0.009,0.01,0.02,0.03,0.04,0.05,0.06,0.07,0.08,0.09,0.1,0.2,0.3,0.4,0.5,0.6,0.7,0.8,0.9,1,2,3],"labelExpr":"datum.value == 1 ? '10⁰' : (datum.value == 0.01 ? '10⁻²' : '')","title":null,"tickSize":{"condition":{"test":"datum.value == 1 || datum.value == 0.01","value":-9},"value":-5},"labelPadding":32}},
  "fill":{"field":"s","type":"nominal","sort":null,"scale":{"domain":[0,1,2,3,4],"range":["#000000","#003800","#006e00","#00b000","#00ff00"]},"legend":null}
 }
},
{
 "width":269,"height":266,
 "title":{"text":"Δτ\u2002=\u20022","offset":-12},
 "data":{"name":"right"},
 "mark":{"type":"point","shape":"square","filled":true,"size":225,"stroke":"#000000","strokeWidth":1,"fillOpacity":0.5,"strokeOpacity":0.8,"opacity":1},
 "encoding":{
  "x":{"field":"x","type":"quantitative","scale":{"domain":[-11.16,11.07],"nice":false,"zero":false},"axis":{"values":[-10,0,10],"labelExpr":"datum.value < 0 ? '-' + abs(datum.value) : '' + datum.value","title":"Δx\u2002(μm)","titlePadding":10,"tickSize":-8,"labelPadding":26}},
  "y":{"field":"y","type":"quantitative","scale":{"type":"log","domain":[0.0001,1],"nice":false},"axis":{"values":[0.0001,0.0002,0.0003,0.0004,0.0005,0.0006,0.0007,0.0008,0.0009,0.001,0.002,0.003,0.004,0.005,0.006,0.007,0.008,0.009,0.01,0.02,0.03,0.04,0.05,0.06,0.07,0.08,0.09,0.1,0.2,0.3,0.4,0.5,0.6,0.7,0.8,0.9,1],"labelExpr":"datum.value == 1 ? '10⁰' : (datum.value == 0.01 ? '10⁻²' : (datum.value == 0.0001 ? '10⁻⁴' : ''))","title":null,"tickSize":{"condition":{"test":"datum.value == 1 || datum.value == 0.01 || datum.value == 0.0001","value":-9},"value":-5},"labelPadding":29}},
  "fill":{"field":"s","type":"nominal","sort":null,"scale":{"domain":[0,1,2,3,4],"range":["#000000","#003800","#006e00","#00b000","#00ff00"]},"legend":null}
 }
}
]
}
